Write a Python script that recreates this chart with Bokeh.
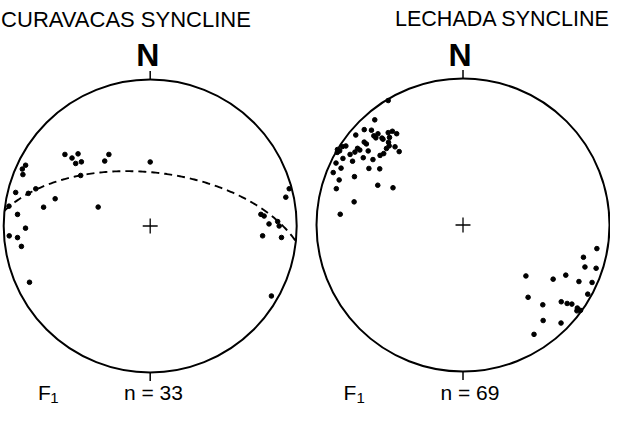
import numpy as np
from bokeh.plotting import figure
from bokeh.models import Range1d
from bokeh.layouts import row
from bokeh.core.properties import value
from bokeh.embed import file_html
from bokeh.resources import INLINE

# ---------------- data (F1 fold axes: trend / plunge, degrees) ----------------
curavacas_title = "CURAVACAS SYNCLINE"
curavacas_n = "n = 33"
curavacas_trend = [310, 311, 315, 310, 313, 330, 325, 0, 296, 294, 292, 306, 284, 285, 288,
                   286, 280, 290, 278, 275, 269, 266, 265, 261, 245, 75, 78, 84, 85, 89,
                   88, 90, 95, 95, 120]
curavacas_plunge = [25, 30, 31, 34, 36, 43, 45, 54, 6, 5, 7, 41, 6, 15, 19,
                    33, 27, 59, 3, 10, 16, 4, 10, 12, 10, 2, 6, 25, 23, 20,
                    14, 13, 24, 11, 5]
# best-fit girdle (dashed great circle): dip direction / dip
curavacas_girdle_dipdir = 6
curavacas_girdle_dip = 60

lechada_title = "LECHADA SYNCLINE"
lechada_n = "n = 69"
lechada_trend = [329, 320, 314, 310, 316, 315, 317, 315, 317, 321, 320, 323, 324, 317, 318,
                 317, 319, 319, 312, 310, 315, 310, 310, 306, 306, 304, 304, 301, 301, 300,
                 302, 299, 304, 306, 300, 296, 295, 301, 304, 292, 294, 290, 295, 298, 286,
                 282, 275, 308, 303,
                 100, 105, 109, 108, 116, 121, 129, 116, 114, 119, 138, 135, 128, 127, 126,
                 126, 126, 127, 140, 135, 147]
lechada_plunge = [1, 7, 7, 5, 11, 15, 16, 17, 20, 20, 23, 21, 24, 21, 25,
                  27, 30, 34, 28, 27, 27, 15, 13, 12, 14, 12, 4, 0, 2, 1,
                  10, 7, 19, 25, 14, 4, 9, 26, 32, 5, 20, 11, 36, 45, 11,
                  25, 17, 19, 2,
                  8, 16, 13, 5, 23, 29, 44, 13, 4, 3, 34, 24, 16, 12, 9,
                  4, 1, 3, 16, 6, 12]
fold_label = "F"
fold_sub = "1"
north_label = "N"

FONT = value("Liberation Sans")
SCALE = 146.5          # screen pixels per unit radius of the primitive circle
BASE_SHIFT = 0.36      # baseline correction (em) for the text glyph


def project(trend, plunge):
    """Equal-area (Schmidt) lower-hemisphere projection onto the unit circle."""
    t = np.radians(np.asarray(trend, dtype=float))
    p = np.radians(np.asarray(plunge, dtype=float))
    r = np.sqrt(2.0) * np.sin((np.pi / 2 - p) / 2)
    return r * np.sin(t), r * np.cos(t)


def great_circle(dipdir, dip, n=181):
    rake = np.radians(np.linspace(0, 180, n))
    dd = np.radians(dipdir)
    d = np.radians(dip)
    s = np.array([np.sin(dd - np.pi / 2), np.cos(dd - np.pi / 2), 0.0])
    dv = np.array([np.sin(dd) * np.cos(d), np.cos(dd) * np.cos(d), -np.sin(d)])
    v = np.outer(np.cos(rake), s) + np.outer(np.sin(rake), dv)
    tr = np.degrees(np.arctan2(v[:, 0], v[:, 1]))
    pl = np.degrees(np.arcsin(np.clip(-v[:, 2], 0, 1)))
    return project(tr, pl)


def put_text(p, x, y, text, size, align="left", style="normal"):
    yy = y + BASE_SHIFT * size / SCALE
    p.text(x=[x], y=[yy], text=[text], text_font=FONT,
           text_font_size=value(f"{size}px"), text_font_style=style,
           text_align=align, text_baseline="alphabetic", text_color="black")


def panel(width, xr, yr, title, title_x, title_y, title_size, title_align,
          trends, plunges, n_text, n_x, f_x, sub_x, north_x, north_y, lab_y, sub_y,
          girdle=None):
    p = figure(width=width, height=407, x_range=Range1d(*xr), y_range=Range1d(*yr),
               output_backend="svg", toolbar_location=None, min_border=0,
               x_axis_type=None, y_axis_type=None)
    p.grid.visible = False
    p.outline_line_color = None
    p.background_fill_color = "white"
    p.border_fill_color = "white"

    # primitive circle
    p.circle(x=[0], y=[0], radius=1, fill_color=None, line_color="black", line_width=2)
    # N / S ticks
    p.segment(x0=[0, 0], y0=[1, -1], x1=[0, 0], y1=[1.058, -1.058],
              line_color="black", line_width=1.5)
    # centre cross
    a = 0.051
    p.segment(x0=[-a, 0], y0=[0, -a], x1=[a, 0], y1=[0, a],
              line_color="black", line_width=1.3)

    if girdle is not None:
        gx, gy = great_circle(*girdle)
        p.line(gx, gy, line_color="black", line_width=1.9, line_dash="8 5")

    x, y = project(trends, plunges)
    p.scatter(x, y, marker="circle", size=4.6, fill_color="black", line_color="black")

    put_text(p, title_x, title_y, title, title_size, align=title_align)
    put_text(p, north_x, north_y, north_label, 32, align="center", style="bold")
    put_text(p, f_x, lab_y, fold_label, 21)
    put_text(p, n_x, lab_y, n_text, 21)
    put_text(p, sub_x, sub_y, fold_sub, 15)
    return p


p1 = panel(306, (-1.0218, 1.0669), (-1.2389, 1.5392),
           curavacas_title, -1.0177, 1.3570, 22, "left",
           curavacas_trend, curavacas_plunge, curavacas_n,
           -0.179, -0.766, -0.682, -0.016, 1.0887, -1.1911, -1.2082,
           girdle=(curavacas_girdle_dipdir, curavacas_girdle_dip))
p2 = panel(304, (-1.0683, 1.0068), (-1.2457, 1.5324),
           lechada_title, 1.004, 1.3502, 21.5, "right",
           lechada_trend, lechada_plunge, lechada_n,
           -0.154, -0.816, -0.727, -0.020, 1.082, -1.198, -1.215)

layout = row(p1, p2)
open("out.html", "w").write(file_html(layout, INLINE))
